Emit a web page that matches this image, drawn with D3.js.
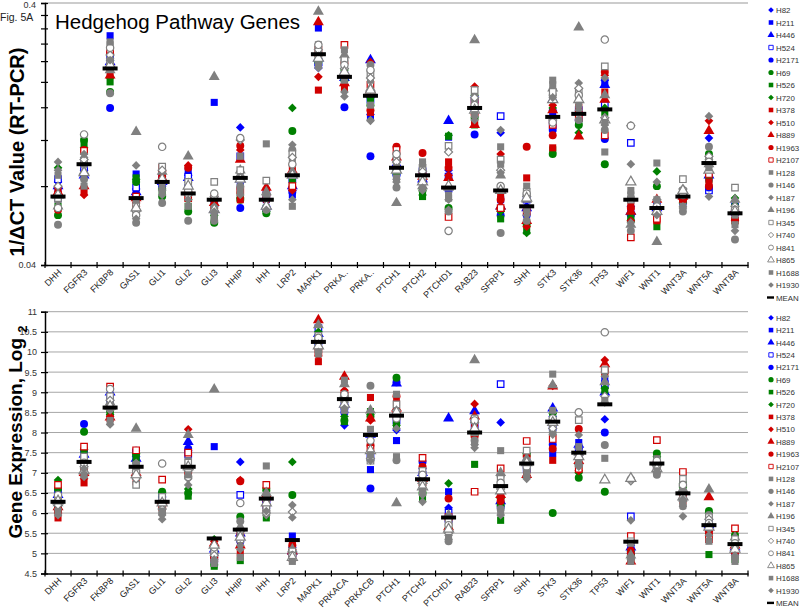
<!DOCTYPE html>
<html><head><meta charset="utf-8">
<script src="https://cdn.jsdelivr.net/npm/d3@7"></script>
<style>body{margin:0;background:#fff} svg{display:block;font-family:Arial,'Liberation Sans',sans-serif}</style>
</head><body><svg id="c" width="800" height="612"></svg>
<script>
// ---------- DATA ----------
const categories = ["DHH","FGFR3","FKBP8","GAS1","GLI1","GLI2","GLI3","HHIP","IHH","LRP2","MAPK1","PRKACA","PRKACB","PTCH1","PTCH2","PTCHD1","RAB23","SFRP1","SHH","STK3","STK36","TP53","WIF1","WNT1","WNT3A","WNT5A","WNT8A"];
const topTickLabels = ["DHH","FGFR3","FKBP8","GAS1","GLI1","GLI2","GLI3","HHIP","IHH","LRP2","MAPK1","PRKA..","PRKA..","PTCH1","PTCH2","PTCHD1","RAB23","SFRP1","SHH","STK3","STK36","TP53","WIF1","WNT1","WNT3A","WNT5A","WNT8A"];
const seriesNames = ["H82","H211","H446","H524","H2171","H69","H526","H720","H378","H510","H889","H1963","H2107","H128","H146","H187","H196","H345","H740","H841","H865","H1688","H1930"];
const topYTicks = [0.04,0.08,0.12,0.16,0.2,0.24,0.28,0.32,0.36,0.4];
const topYTickLabels = {"0.04":"0.04","0.4":"0.4"};
const botYTicks = [4.5,5,5.5,6,6.5,7,7.5,8,8.5,9,9.5,10,10.5,11];

// Top panel: 1/ΔCT values (RT-PCR)
const top_H82   = [.083,.092,.242,.078,.085,.088,.067,.134,.067,.077,.226,.195,.150,.094,.086,.092,.156,.128,.067,.156,.150,.203,.067,.067,.072,.122,.062];
const top_H211  = [.077,.091,.300,.089,.086,.091,.167,.080,.071,.074,.321,.200,.148,.092,.088,.123,.150,.071,.065,.153,.146,.200,.065,.069,.071,.086,.064];
const top_H446  = [.080,.088,.238,.076,.083,.086,.065,.085,.067,.080,.246,.207,.242,.097,.085,.142,.163,.067,.066,.171,.153,.195,.064,.066,.074,.088,.065];
const top_H524  = [.085,.094,.253,.079,.087,.087,.071,.104,.074,.085,.238,.212,.171,.091,.091,.087,.171,.148,.071,.137,.156,.163,.117,.067,.073,.077,.067];
const top_H2171 = [.071,.101,.159,.074,.080,.080,.064,.066,.065,.076,.232,.160,.104,.088,.083,.077,.126,.062,.062,.131,.143,.121,.062,.065,.069,.079,.060];
const top_H69   = [.062,.120,.183,.083,.073,.064,.058,.071,.063,.130,.238,.203,.163,.090,.077,.066,.146,.065,.057,.106,.137,.097,.059,.080,.071,.106,.067];
const top_H526  = [.067,.115,.200,.086,.077,.067,.060,.074,.066,.083,.246,.218,.171,.088,.073,.124,.137,.060,.054,.110,.140,.153,.060,.056,.072,.085,.059];
const top_H720  = [.094,.112,.207,.085,.078,.071,.062,.072,.064,.159,.242,.222,.174,.092,.074,.125,.178,.064,.053,.159,.128,.159,.063,.091,.069,.101,.072];
const top_H378  = [.078,.076,.218,.071,.088,.074,.067,.071,.077,.095,.186,.189,.153,.101,.086,.099,.140,.073,.086,.112,.160,.183,.067,.059,.071,.083,.059];
const top_H510  = [.079,.074,.232,.069,.091,.096,.066,.110,.074,.077,.209,.195,.238,.106,.085,.088,.192,.106,.056,.163,.150,.212,.059,.062,.072,.142,.059];
const top_H889  = [.076,.080,.212,.072,.086,.077,.069,.101,.079,.092,.338,.198,.186,.103,.087,.086,.137,.067,.059,.156,.124,.171,.064,.071,.073,.130,.065];
const top_H1963 = [.065,.110,.257,.067,.087,.094,.071,.114,.071,.079,.253,.236,.156,.113,.107,.094,.150,.071,.113,.125,.153,.218,.066,.064,.071,.080,.060];
const top_H2107 = [.074,.109,.265,.073,.094,.072,.072,.077,.073,.080,.265,.277,.195,.110,.088,.061,.167,.066,.064,.137,.146,.125,.051,.060,.074,.089,.064];
const top_H128  = [.071,.097,.277,.065,.080,.078,.065,.104,.116,.101,.277,.265,.203,.097,.099,.074,.186,.113,.080,.203,.171,.108,.077,.098,.077,.097,.062];
const top_H146  = [.057,.085,.181,.058,.069,.059,.059,.080,.065,.110,.270,.242,.232,.079,.092,.064,.171,.053,.059,.178,.143,.131,.054,.067,.064,.113,.050];
const top_H187  = [.099,.103,.246,.096,.077,.083,.067,.088,.071,.115,.260,.183,.142,.085,.077,.071,.178,.131,.074,.186,.198,.207,.097,.083,.067,.148,.066];
const top_H196  = [.067,.091,.222,.129,.091,.104,.209,.092,.076,.091,.371,.253,.189,.069,.080,.079,.289,.088,.071,.189,.323,.178,.057,.049,.076,.097,.071];
const top_H345  = [.072,.099,.238,.067,.095,.083,.083,.092,.084,.106,.253,.242,.215,.101,.094,.114,.186,.101,.076,.183,.183,.229,.071,.065,.085,.101,.079];
const top_H740  = [.080,.101,.253,.064,.092,.074,.073,.120,.071,.103,.265,.225,.207,.099,.091,.108,.174,.092,.073,.143,.189,.146,.136,.071,.078,.104,.067];
const top_H841  = [.066,.126,.270,.062,.113,.077,.075,.122,.074,.097,.277,.232,.222,.106,.086,.054,.163,.080,.075,.140,.178,.290,.136,.067,.074,.099,.065];
const top_H865  = [.074,.090,.232,.066,.085,.080,.065,.085,.067,.088,.246,.218,.186,.092,.083,.080,.156,.077,.072,.171,.171,.143,.083,.064,.077,.092,.064];
const top_H1688 = [.088,.080,.284,.071,.076,.067,.062,.077,.074,.067,.232,.203,.163,.086,.097,.072,.150,.097,.065,.195,.163,.140,.074,.071,.067,.094,.057];
const top_H1930 = [.092,.106,.242,.060,.074,.071,.064,.074,.065,.071,.226,.176,.143,.083,.079,.065,.143,.090,.062,.174,.156,.137,.058,.062,.066,.073,.054];
const top_MEAN  = [.073,.097,.225,.072,.083,.075,.071,.086,.071,.088,.255,.209,.177,.094,.088,.079,.159,.077,.067,.147,.151,.157,.071,.066,.073,.098,.063];

// Bottom panel: gene expression, log2
const bot_H82   = [6.50,7.40,8.95,7.40,6.40,7.55,5.20,7.27,6.30,5.15,10.30,8.18,7.90,8.06,7.10,6.13,8.30,8.25,7.20,8.40,7.60,8.33,5.20,7.20,6.50,5.85,5.20];
const bot_H211  = [6.35,7.20,8.70,7.30,6.30,7.50,7.65,5.40,6.35,5.43,10.40,8.60,7.08,7.80,6.90,6.53,8.10,6.25,7.15,7.48,7.75,9.30,5.10,7.25,6.45,5.60,5.10];
const bot_H446  = [6.45,7.45,9.00,7.35,6.35,7.77,5.10,5.50,6.40,5.05,10.45,8.70,7.95,9.22,7.00,8.35,8.53,6.30,7.25,8.60,7.70,9.00,5.15,7.30,6.55,5.70,5.15];
const bot_H524  = [6.55,7.50,8.85,7.50,6.45,7.45,4.85,6.45,6.20,5.00,10.59,8.65,7.40,8.30,6.95,6.01,8.20,9.20,7.10,8.14,7.55,9.20,5.92,7.15,6.40,5.75,5.25];
const bot_H2171 = [6.20,8.21,8.60,7.55,6.25,7.60,5.00,5.30,6.25,4.95,10.20,8.50,6.61,9.25,7.27,5.80,8.05,6.15,7.30,7.70,7.45,8.00,5.00,7.10,6.35,5.65,5.00];
const bot_H69   = [6.60,8.02,8.55,7.45,6.53,6.50,4.72,5.91,6.60,6.45,10.35,8.30,8.40,9.36,6.50,5.60,7.95,6.20,7.45,6.00,6.88,6.53,4.95,7.48,6.74,6.05,5.45];
const bot_H526  = [6.10,7.55,8.50,7.30,6.45,6.42,4.68,4.82,5.88,5.10,10.15,8.27,8.52,8.20,6.36,5.70,7.21,5.82,7.05,8.45,7.10,9.05,4.90,7.35,6.60,4.97,4.85];
const bot_H720  = [6.82,7.58,8.45,7.48,6.50,6.60,5.35,5.60,6.55,7.27,10.50,8.40,8.45,8.18,6.60,6.74,8.25,6.36,7.48,8.47,7.00,9.10,5.05,7.40,6.65,6.00,5.35];
const bot_H378  = [5.88,6.75,8.35,6.78,6.20,6.98,4.95,5.00,6.10,5.22,9.76,8.95,8.87,8.74,6.80,5.75,8.15,6.40,7.00,7.31,7.40,9.48,4.85,7.05,6.30,5.40,5.05];
const bot_H510  = [6.00,6.85,8.40,6.90,6.15,8.08,5.30,6.82,6.30,5.10,9.90,9.05,8.30,8.50,6.70,5.85,8.71,6.50,6.92,9.16,7.05,9.80,5.10,7.20,6.45,5.55,5.00];
const bot_H889  = [6.15,7.00,8.38,7.00,6.30,7.20,5.25,5.20,6.45,5.05,10.79,9.39,8.35,8.60,6.85,5.65,8.40,6.45,6.95,9.15,7.30,9.70,4.80,7.30,6.55,6.40,5.20];
const bot_H1963 = [6.05,7.10,8.65,7.10,6.10,7.00,4.90,6.79,6.20,5.20,10.10,9.00,7.69,8.90,7.15,6.36,7.90,6.30,7.40,7.60,8.09,9.50,5.00,7.10,6.40,5.50,5.10];
const bot_H2107 = [6.70,7.65,9.14,7.56,6.83,7.50,4.88,5.45,6.70,4.90,10.00,8.90,7.60,8.45,7.37,5.90,6.53,7.11,7.79,7.84,7.10,9.60,5.43,7.81,7.02,5.35,5.62];
const bot_H128  = [6.30,7.30,8.70,7.20,6.20,7.30,5.10,5.50,7.17,5.00,10.20,9.30,8.08,8.95,6.90,5.55,8.00,7.55,7.30,9.45,7.65,7.36,5.25,7.35,6.50,5.80,5.30];
const bot_H146  = [6.40,7.20,8.60,7.10,6.00,7.10,4.80,5.80,6.05,4.85,10.30,8.80,9.16,7.31,6.70,5.30,7.80,6.10,7.10,8.00,7.35,7.69,4.90,6.95,6.17,5.95,4.90];
const bot_H187  = [6.10,6.90,8.55,7.00,5.85,6.85,5.00,5.10,5.95,6.20,10.05,8.75,7.50,8.40,6.28,5.45,7.70,6.90,6.85,8.30,7.94,9.40,5.82,7.00,5.92,5.60,5.15];
const bot_H196  = [6.25,7.35,8.75,8.10,6.35,7.94,9.07,5.65,6.50,5.10,10.67,9.20,8.55,6.25,6.80,5.95,9.80,7.00,7.35,9.18,7.50,9.25,4.95,7.25,6.60,6.59,5.40];
const bot_H345  = [6.35,7.40,8.90,6.70,6.40,7.25,5.05,5.35,6.15,5.05,10.40,8.85,7.30,8.70,7.05,5.80,8.35,6.85,7.55,8.20,8.31,9.55,5.30,7.20,6.85,5.90,5.35];
const bot_H740  = [6.20,7.15,8.80,6.85,6.10,7.05,4.95,5.55,6.00,6.03,10.25,8.90,7.35,8.55,6.75,5.50,8.25,6.60,7.20,8.10,7.20,8.90,6.80,7.15,6.30,5.85,5.20];
const bot_H841  = [6.45,7.25,9.08,7.05,7.23,6.90,5.15,6.25,6.35,4.95,10.35,8.95,7.80,8.35,6.95,5.70,8.30,6.75,7.15,8.35,8.50,10.49,6.84,7.30,6.70,5.75,5.25];
const bot_H865  = [6.30,7.05,8.65,6.95,6.25,7.15,5.20,5.40,6.25,4.90,10.15,8.70,7.55,8.50,6.65,5.60,8.10,6.55,7.25,8.25,7.40,6.82,6.86,7.10,6.40,5.65,5.10];
const bot_H1688 = [6.00,6.95,8.30,7.15,6.05,6.95,4.75,4.90,6.40,4.80,9.95,8.55,7.45,7.40,6.55,5.40,7.75,6.00,7.00,8.55,7.25,8.80,4.80,7.05,6.25,5.30,4.80];
const bot_H1930 = [5.95,7.10,8.20,7.25,5.95,6.70,4.85,5.20,6.05,5.89,10.00,8.60,7.30,8.10,6.45,5.35,7.62,5.95,6.90,7.95,7.15,8.75,4.85,7.00,6.35,5.45,4.95];
const bot_MEAN  = [6.28,7.27,8.62,7.15,6.28,7.15,5.37,5.59,6.36,5.33,10.25,8.83,7.94,8.42,6.84,5.89,8.00,6.67,7.23,8.27,7.50,8.70,5.29,7.23,6.49,5.70,5.23];

const topSeries = [top_H82,top_H211,top_H446,top_H524,top_H2171,top_H69,top_H526,top_H720,top_H378,top_H510,top_H889,top_H1963,top_H2107,top_H128,top_H146,top_H187,top_H196,top_H345,top_H740,top_H841,top_H865,top_H1688,top_H1930];
const botSeries = [bot_H82,bot_H211,bot_H446,bot_H524,bot_H2171,bot_H69,bot_H526,bot_H720,bot_H378,bot_H510,bot_H889,bot_H1963,bot_H2107,bot_H128,bot_H146,bot_H187,bot_H196,bot_H345,bot_H740,bot_H841,bot_H865,bot_H1688,bot_H1930];

// ---------- STYLE ----------
const BLUE="#0000ff", GREEN="#008000", RED="#d00000", GRAY="#808080";
const seriesStyle = [
  ["diamond",BLUE,true],["square",BLUE,true],["triangle",BLUE,true],["square",BLUE,false],["circle",BLUE,true],
  ["circle",GREEN,true],["square",GREEN,true],["diamond",GREEN,true],
  ["square",RED,true],["diamond",RED,true],["triangle",RED,true],["circle",RED,true],["square",RED,false],
  ["square",GRAY,true],["circle",GRAY,true],["diamond",GRAY,true],["triangle",GRAY,true],["square",GRAY,false],
  ["diamond",GRAY,false],["circle",GRAY,false],["triangle",GRAY,false],["square",GRAY,true],["diamond",GRAY,true]
];
const symType = {circle:d3.symbolCircle,square:d3.symbolSquare,triangle:d3.symbolTriangle,diamond:d3.symbolSquare};
function symbolPath(shape, scale){
  const base = {circle:50,square:50,triangle:52,diamond:38}[shape];
  return d3.symbol(symType[shape], base*scale)();
}

const svg = d3.select("#c");
svg.append("rect").attr("width",800).attr("height",612).attr("fill","#fff");

const X0=45, X1=748;
const x = d3.scaleBand().domain(categories).range([X0,X1]);

function drawMarkers(g, seriesArr, meanArr, y){
  seriesArr.forEach((vals,si)=>{
    const [shape,col,filled]=seriesStyle[si];
    g.append("g").selectAll("path").data(vals).join("path")
      .attr("d", symbolPath(shape, filled?1:0.85))
      .attr("transform",(v,i)=>`translate(${x(categories[i])+x.bandwidth()/2},${y(v)})${shape==="diamond"?" rotate(45)":""}`)
      .attr("fill", filled?col:"#fff")
      .attr("stroke", filled?"none":col)
      .attr("stroke-width", 1.2);
  });
  g.append("g").selectAll("rect").data(meanArr).join("rect")
    .attr("x",(v,i)=>x(categories[i])+x.bandwidth()/2-7.5)
    .attr("y",v=>y(v)-2)
    .attr("width",15).attr("height",4).attr("fill","#000");
}

function drawXAxis(g, yPos, labels){
  const ax = d3.axisBottom(x).tickSize(0).tickFormat((d,i)=>labels[i]);
  const a = g.append("g").attr("transform",`translate(0,${yPos})`).call(ax);
  a.select(".domain").attr("stroke","#000").attr("stroke-width",1.5);
  a.selectAll("text").attr("font-size",9).attr("fill","#222")
    .attr("text-anchor","end").attr("dy",null).attr("y",null)
    .attr("transform","translate(4,8) rotate(-45)");
  const bounds = categories.map(c=>x(c)).concat([X1]);
  g.append("g").selectAll("line").data(bounds).join("line")
    .attr("x1",d=>d).attr("x2",d=>d).attr("y1",yPos-3).attr("y2",yPos+3)
    .attr("stroke","#000").attr("stroke-width",1.2);
}

function drawLegend(g, y0, step){
  seriesNames.forEach((n,i)=>{
    const [shape,col,filled]=seriesStyle[i];
    const yy=y0+i*step;
    g.append("path").attr("d",symbolPath(shape, filled?0.42:0.38))
      .attr("transform",`translate(771,${yy})${shape==="diamond"?" rotate(45)":""}`)
      .attr("fill",filled?col:"#fff").attr("stroke",filled?"none":col).attr("stroke-width",0.9);
    g.append("text").attr("x",776).attr("y",yy+3).attr("font-size",7.9).attr("fill","#333").text(n);
  });
  const yy=y0+seriesNames.length*step;
  g.append("rect").attr("x",767).attr("y",yy-1.2).attr("width",7).attr("height",2.4).attr("fill","#000");
  g.append("text").attr("x",776).attr("y",yy+3).attr("font-size",7.9).attr("fill","#333").text("MEAN");
}

// ---------- TOP PANEL ----------
const yT = d3.scaleLog().domain([0.04,0.4]).range([265,3]);
const gT = svg.append("g");
gT.append("line").attr("x1",X0).attr("x2",X1).attr("y1",yT(0.4)).attr("y2",yT(0.4)).attr("stroke","#999").attr("stroke-width",1);
const ayT = gT.append("g").attr("transform",`translate(${X0},0)`)
  .call(d3.axisLeft(yT).tickValues(topYTicks).tickSize(4).tickPadding(5)
    .tickFormat(d=>topYTickLabels[String(+d.toFixed(2))]||""));
ayT.select(".domain").attr("stroke","#000").attr("stroke-width",1.5);
ayT.selectAll(".tick line").attr("x2",-4).attr("x1",3).attr("stroke","#000").attr("stroke-width",1.2);
ayT.selectAll("text").attr("font-size",9).attr("fill","#333");
ayT.selectAll(".tick text").filter(d=>Math.abs(d-0.4)<1e-9).attr("dy","0.45em");
drawXAxis(gT, 265, topTickLabels);
drawMarkers(gT, topSeries, top_MEAN, yT);
drawLegend(gT, 10, 12.5);

svg.append("text").attr("x",0).attr("y",20.5).attr("font-size",10.5).attr("fill","#222").text("Fig. 5A");
svg.append("text").attr("x",55).attr("y",29).attr("font-size",20.5).attr("fill","#000").text("Hedgehog Pathway Genes");
svg.append("text").attr("transform","translate(24,152) rotate(-90)").attr("text-anchor","middle")
  .attr("font-size",20).attr("font-weight","bold").attr("fill","#000").text("1/\u0394CT Value (RT-PCR)");

// ---------- BOTTOM PANEL ----------
const yB = d3.scaleLinear().domain([4.5,11]).range([573.5,311.7]);
const gB = svg.append("g");
gB.append("g").selectAll("line").data(botYTicks.slice(1)).join("line")
  .attr("x1",X0).attr("x2",X1).attr("y1",d=>yB(d)).attr("y2",d=>yB(d))
  .attr("stroke","#a6a6a6").attr("stroke-width",1);
const ayB = gB.append("g").attr("transform",`translate(${X0},0)`)
  .call(d3.axisLeft(yB).tickValues(botYTicks).tickSize(4).tickPadding(4).tickFormat(d=>String(d)));
ayB.select(".domain").attr("stroke","#000").attr("stroke-width",1.5);
ayB.selectAll(".tick line").attr("x2",-4).attr("x1",3).attr("stroke","#000").attr("stroke-width",1.2);
ayB.selectAll("text").attr("font-size",9).attr("fill","#333");
drawXAxis(gB, 573.5, categories);
drawMarkers(gB, botSeries, bot_MEAN, yB);
drawLegend(gB, 317.7, 12.4);

const yl = svg.append("text").attr("transform","translate(22,432) rotate(-90)").attr("text-anchor","middle")
  .attr("font-size",19).attr("font-weight","bold").attr("fill","#000");
yl.append("tspan").text("Gene Expression, Log ");
yl.append("tspan").attr("font-size",13).attr("dy","0.35em").text("2");
</script></body></html>
